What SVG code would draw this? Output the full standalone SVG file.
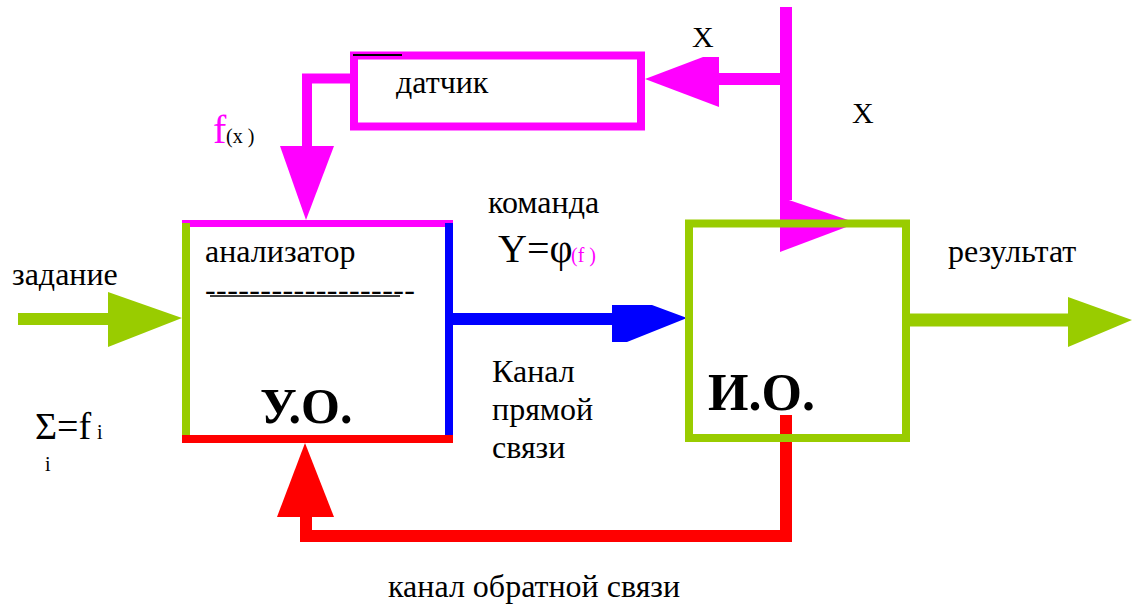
<svg xmlns="http://www.w3.org/2000/svg" width="1132" height="606" viewBox="0 0 1132 606" font-family="'Liberation Serif', 'Times New Roman', Times, serif">
<style>
text{fill:#000}
.t{font-size:32px}
.b{font-weight:bold}
.m{fill:#ff00ff}
.mg{fill:#ff00ff}
.mgs{stroke:#ff00ff;fill:none}
.gr{fill:#99cc00}
.bl{fill:#0000ff}
.rd{fill:#ff0000}
</style>
<rect width="1132" height="606" fill="#fff"/>
<g id="connectors">
  <path d="M350 78.5 H307 V147" class="mgs" stroke-width="10"/>
  <polygon class="mg" points="280,146 334,146 306,220"/>
  <path d="M786 7 V200 M792 79 H718" class="mgs" stroke-width="12"/>
  <polygon class="mg" points="703,57 719,57 719,107 645,79"/>
  <polygon class="mg" points="780,197 780,252 857,223"/>
  <rect class="gr" x="18" y="313" width="91" height="12"/>
  <polygon class="gr" points="108,292 108,347 182,318"/>
  <rect class="bl" x="452" y="313" width="161" height="12"/>
  <polygon class="bl" points="612,305 652,305 687,318 627,342 612,342"/>
  <rect class="gr" x="909" y="313.5" width="160" height="13"/>
  <polygon class="gr" points="1068,297 1068,347 1132,320"/>
  <path d="M786 415 V536 H306 V516" fill="none" stroke="#ff0000" stroke-width="12"/>
  <polygon class="rd" points="277,517 334,517 305,443"/>
</g>
<g id="sensor">
  <rect x="354" y="55.5" width="287" height="71" fill="none" stroke="#ff00ff" stroke-width="8"/>
  <line x1="353" y1="55" x2="402" y2="55" stroke="#000" stroke-width="1.8"/>
  <text class="t" x="396" y="93">датчик</text>
</g>
<g id="analyzer">
  <rect class="mg" x="182" y="220" width="271" height="7"/>
  <rect class="gr" x="182" y="223" width="8" height="215"/>
  <rect class="bl" x="445" y="223" width="8" height="215"/>
  <rect class="rd" x="182" y="435" width="271" height="8"/>
  <text class="t" x="205" y="262">анализатор</text>
  <text class="t" x="205" y="300" textLength="210" lengthAdjust="spacing">-------------------</text>
  <line x1="210" y1="296" x2="400" y2="296" stroke="#000" stroke-width="1.5"/>
  <text class="b" x="260" y="423" font-size="50">У.О.</text>
</g>
<g id="executor">
  <rect x="689" y="223.5" width="217" height="214.5" fill="none" stroke="#99cc00" stroke-width="8"/>
  <text class="b" x="708" y="410" font-size="52">И.О.</text>
</g>
<g id="labels">
  <text x="692" y="47" font-size="30">X</text>
  <text x="852" y="123" font-size="30">X</text>
  <text x="213" y="143" font-size="40" class="m">f</text>
  <text x="226" y="143" font-size="20">(x )</text>
  <text class="t" x="488" y="213">команда</text>
  <text x="498" y="262" font-size="40">Y=φ</text>
  <text x="571" y="262" font-size="20" class="m">(f )</text>
  <text class="t" x="12" y="285">задание</text>
  <text class="t" x="948" y="262">результат</text>
  <text class="t" x="492" y="382">Канал</text>
  <text class="t" x="492" y="420">прямой</text>
  <text class="t" x="492" y="458">связи</text>
  <text x="35" y="439" font-size="38">Σ=f</text>
  <text x="97" y="439" font-size="20">i</text>
  <text x="45" y="471" font-size="20">i</text>
  <text class="t" x="388" y="597">канал обратной связи</text>
</g>
</svg>
